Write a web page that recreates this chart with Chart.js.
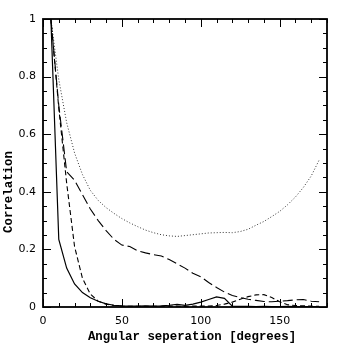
<!DOCTYPE html>
<html>
<head>
<meta charset="utf-8">
<script src="https://cdn.jsdelivr.net/npm/chart.js@4/dist/chart.umd.min.js"></script>
<style>
html, body { margin: 0; padding: 0; background: #fff; }
#wrap { width: 346px; height: 346px; }
</style>
</head>
<body>
<div id="wrap"><canvas id="myChart" width="346" height="346"></canvas></div>
<script>
// angular separation (degrees)
var angles = [5,10,15,20,25,30,35,40,45,50,55,60,65,70,75,80,85,90,95,100,105,110,115,120,125,130,135,140,145,150,155,160,165,170,175];

var solid_vals = [1.0,0.235,0.135,0.08,0.05,0.032,0.02,0.011,0.006,0.004,0.003,0.003,0.004,0.003,0.004,0.006,0.009,0.006,0.01,0.017,0.026,0.035,0.03,0.003,0.002,0.002,0.001,0.002,0.001,0.001,0.002,0.001,0.001,0.001,0.001];
var short_dash_vals = [1.0,0.69,0.43,0.21,0.1,0.045,0.02,0.01,0.005,0.003,0.002,0.002,0.002,0.002,0.002,0.003,0.003,0.002,0.003,0.003,0.003,0.005,0.01,0.017,0.027,0.036,0.042,0.043,0.033,0.018,0.008,0.005,0.004,0.003,0.002];
var long_dash_vals = [1.0,0.70,0.47,0.44,0.39,0.34,0.30,0.265,0.235,0.215,0.21,0.195,0.188,0.182,0.177,0.165,0.15,0.135,0.117,0.105,0.085,0.068,0.052,0.04,0.033,0.027,0.023,0.019,0.018,0.02,0.022,0.025,0.026,0.02,0.018];
var dotted_vals = [1.0,0.79,0.64,0.535,0.46,0.405,0.37,0.345,0.325,0.307,0.292,0.279,0.267,0.258,0.251,0.247,0.245,0.248,0.251,0.254,0.257,0.258,0.259,0.258,0.262,0.27,0.284,0.297,0.314,0.332,0.355,0.382,0.415,0.455,0.51];

var x_range = [0, 180];
var y_range = [0, 1];
var x_major = 50, x_minor = 10;
var y_major = 0.2, y_minor = 0.05;
var x_title = 'Angular seperation [degrees]';
var y_title = 'Correlation';

function make_points(vals) {
    pts = []
    for (i = 0; i < angles.length; i++) {
        pts.push({x: angles[i], y: vals[i]});
    }
    return pts
}

function make_set(vals, dash, width, color) {
    return {
        data: make_points(vals),
        borderColor: color,
        borderWidth: width,
        borderDash: dash,
        pointRadius: 0,
        fill: false,
        tension: 0
    }
}

// frame with inward ticks on all four sides, like the old plot packages
const frame_plugin = {
  id: 'frame_ticks',
  afterDatasetsDraw: (chart) => {
    const ctx = chart.ctx;
    const a = chart.chartArea;
    const xs = chart.scales.x, ys = chart.scales.y;
    ctx.save();
    ctx.strokeStyle = '#000';
    ctx.lineWidth = 1;
    for (v = x_range[0]; v <= x_range[1] + 1e-9; v += x_minor) {
        var px = Math.round(xs.getPixelForValue(v)) + 0.5;
        var len = (Math.abs(v % x_major) < 1e-6) ? 8 : 4;
        ctx.beginPath();
        ctx.moveTo(px, a.bottom); ctx.lineTo(px, a.bottom - len);
        ctx.moveTo(px, a.top); ctx.lineTo(px, a.top + len);
        ctx.stroke();
    }
    for (k = 0; k <= Math.round((y_range[1] - y_range[0]) / y_minor); k++) {
        var v2 = y_range[0] + k * y_minor;
        var py = Math.round(ys.getPixelForValue(v2)) + 0.5;
        var len2 = (k % 4 == 0) ? 8 : 4;
        ctx.beginPath();
        ctx.moveTo(a.left, py); ctx.lineTo(a.left + len2, py);
        ctx.moveTo(a.right, py); ctx.lineTo(a.right - len2, py);
        ctx.stroke();
    }
    ctx.lineWidth = 1.8;
    ctx.strokeRect(a.left, a.top, a.right - a.left, a.bottom - a.top);

    // axis titles
    ctx.fillStyle = '#000';
    ctx.font = 'bold 12.4px "Liberation Mono"';
    ctx.textAlign = 'center';
    ctx.textBaseline = 'alphabetic';
    ctx.fillText(x_title, (a.left + a.right) / 2 + 7, 340);
    ctx.translate(12, (a.top + a.bottom) / 2 + 29);
    ctx.rotate(-Math.PI / 2);
    ctx.fillText(y_title, 0, 0);
    ctx.restore();
  }
};

function create_chart() {
    var the_chart_canvas = document.getElementById('myChart').getContext('2d');
    var myChart = new Chart(the_chart_canvas, {
        type: 'line',
        data: {
            datasets: [
                make_set(solid_vals, [], 1.2, '#000'),
                make_set(short_dash_vals, [5, 3], 1.1, '#000'),
                make_set(long_dash_vals, [10, 4], 1.1, '#000'),
                make_set(dotted_vals, [1, 2], 1, '#333')
            ]
        },
        options: {
            responsive: false,
            animation: false,
            layout: { padding: { top: 19, right: 19, left: 0, bottom: 0 } },
            plugins: { legend: { display: false }, tooltip: { enabled: false } },
            scales: {
                x: {
                    type: 'linear',
                    min: x_range[0], max: x_range[1],
                    grid: { display: false, drawTicks: false, tickLength: 0 },
                    border: { display: false },
                    afterFit: (s) => { s.height = 39; },
                    ticks: {
                        stepSize: x_major,
                        padding: 8,
                        color: '#000',
                        maxRotation: 0,
                        font: { family: 'DejaVu Sans', size: 11 },
                        callback: (v) => (v % x_major === 0 ? v : null)
                    }
                },
                y: {
                    min: y_range[0], max: y_range[1],
                    grid: { display: false, drawTicks: false, tickLength: 0 },
                    border: { display: false },
                    afterFit: (s) => { s.width = 43; },
                    ticks: {
                        stepSize: y_major,
                        padding: 7,
                        color: '#000',
                        font: { family: 'DejaVu Sans', size: 11 },
                        callback: (v) => String(Math.round(v * 10) / 10)
                    }
                }
            }
        },
        plugins: [frame_plugin]
    });
}

create_chart()
</script>
</body>
</html>
